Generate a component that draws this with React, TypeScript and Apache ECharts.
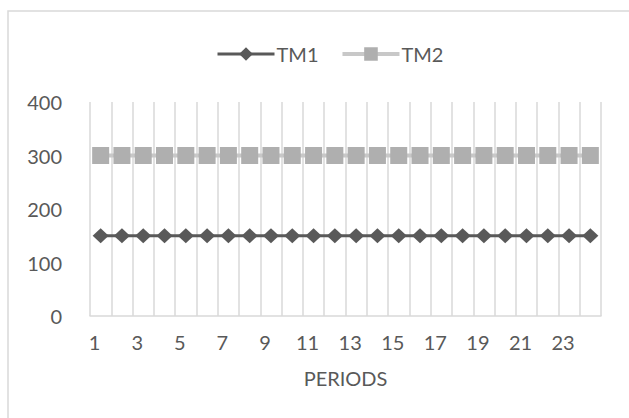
import React, { useEffect, useRef } from "react";
import * as echarts from "echarts";

const periods: string[] = Array.from({ length: 24 }, (_, i) => String(i + 1));
const tm1: number[] = [150, 150, 150, 150, 150, 150, 150, 150, 150, 150, 150, 150, 150, 150, 150, 150, 150, 150, 150, 150, 150, 150, 150, 150];
const tm2: number[] = [300, 300, 300, 300, 300, 300, 300, 300, 300, 300, 300, 300, 300, 300, 300, 300, 300, 300, 300, 300, 300, 300, 300, 300];
const yTicks = { min: 0, max: 400, interval: 100 };

const FONT = "Lato, 'Open Sans', sans-serif";
const TXT = "#595959";

export default function App() {
  const ref = useRef<HTMLDivElement>(null);
  useEffect(() => {
    if (!ref.current) return;
    const chart = echarts.init(ref.current, undefined, { renderer: "svg" });
    chart.setOption({
      animation: false,
      backgroundColor: "#ffffff",
      textStyle: { fontFamily: FONT, color: TXT },
      graphic: [
        {
          type: "rect",
          shape: { x: 8, y: 11, width: 700, height: 500 },
          style: { fill: "none", stroke: "#d9d9d9", lineWidth: 1.5 },
          silent: true,
        },
      ],
      legend: {
        left: 211,
        top: 39,
        itemWidth: 57,
        itemHeight: 17,
        itemGap: 22,
        lineStyle: { width: "inherit" },
        textStyle: { fontFamily: FONT, fontSize: 20, color: TXT, padding: [0, 0, 0, -3] },
        data: ["TM1", "TM2"],
      },
      grid: { left: 90, right: 28, top: 102, bottom: 102, containLabel: false },
      xAxis: {
        type: "category",
        data: periods,
        boundaryGap: true,
        name: "PERIODS",
        nameLocation: "middle",
        nameGap: 52,
        nameTextStyle: { fontFamily: FONT, fontSize: 20, color: TXT },
        axisLine: { show: true, lineStyle: { color: "#d9d9d9", width: 1.5 } },
        axisTick: { show: false, interval: 0 },
        splitLine: { show: true, interval: 0, lineStyle: { color: "#d9d9d9", width: 1.5 } },
        axisLabel: {
          interval: 1,
          margin: 16,
          fontFamily: FONT,
          fontSize: 20,
          color: TXT,
          padding: [0, 12, 0, 0],
        },
      },
      yAxis: {
        type: "value",
        min: yTicks.min,
        max: yTicks.max,
        interval: yTicks.interval,
        axisLine: { show: false },
        axisTick: { show: false },
        splitLine: { show: false },
        axisLabel: { margin: 28, fontFamily: FONT, fontSize: 20, color: TXT },
      },
      series: [
        {
          name: "TM1",
          type: "line",
          data: tm1,
          symbol: "diamond",
          symbolSize: [16, 15],
          showAllSymbol: true,
          lineStyle: { color: "#595959", width: 3 },
          itemStyle: { color: "#595959" },
          z: 3,
        },
        {
          name: "TM2",
          type: "line",
          data: tm2,
          symbol: "rect",
          symbolSize: 17,
          showAllSymbol: true,
          lineStyle: { color: "#c8c8c8", width: 4 },
          itemStyle: { color: "#afafaf" },
          z: 2,
        },
      ],
    });
    return () => chart.dispose();
  }, []);
  return (
    <div
      ref={ref}
      style={{ position: "fixed", left: 0, top: 0, width: 629, height: 418 }}
    />
  );
}
